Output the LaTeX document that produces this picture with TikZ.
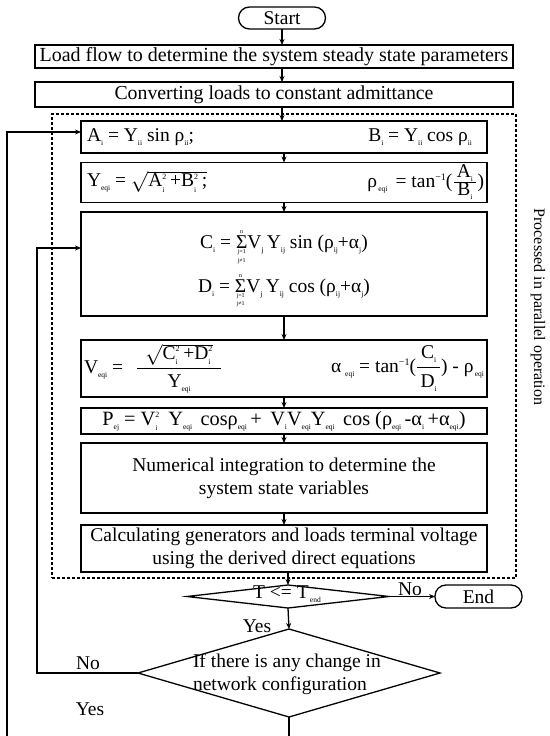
\documentclass[tikz,border=0pt]{standalone}
\usepackage{fontspec}
\setmainfont{Liberation Serif}
\usetikzlibrary{arrows.meta,shapes.geometric}
\newcommand{\lo}[1]{\raisebox{-0.45ex}{\fontsize{7.5}{7.5}\selectfont #1}}
\newcommand{\hi}[1]{\raisebox{0.85ex}{\fontsize{8}{8}\selectfont #1}}
\newcommand{\lohi}[2]{\ensuremath{\hbox{}^{\hbox{\fontsize{8}{8}\selectfont #2}}_{\hbox{\fontsize{7.5}{7.5}\selectfont #1}}}}
\newcommand{\sumn}{\ensuremath{\mathop{\hbox{Σ}}\limits^{\hbox{\fontsize{6}{6}\selectfont n}}_{\hbox{\fontsize{6}{6}\selectfont\shortstack{j=1\\j≠1}}}}}
\begin{document}
\begin{tikzpicture}[x=1pt,y=-1pt,
  font=\fontsize{19.5}{23}\selectfont,
  every node/.style={inner sep=0pt,outer sep=0pt},
  box/.style={draw,line width=1.3pt,minimum width=406pt},
  wbox/.style={draw,line width=1.3pt,minimum width=478pt},
  term/.style={draw,line width=1.3pt,rounded corners=11pt,minimum width=87pt,minimum height=22pt},
  dia/.style={draw,line width=1.3pt,diamond},
  arr/.style={line width=1.3pt,-{Stealth[length=6pt,width=5pt]}},
  ln/.style={line width=1.3pt}]
\useasboundingbox (0,0) rectangle (549,736);
% terminals and top boxes
\node[term] (Start) at (282,18) {Start};
\node[wbox,minimum height=23pt,font=\fontsize{20}{23}\selectfont] (Load) at (274,56.5) {Load flow to determine the system steady state parameters};
\node[wbox,minimum height=25pt,font=\fontsize{19.8}{23}\selectfont] (Conv) at (274,94.5) {Converting loads to constant admittance};
% dashed frame
\node[draw,line width=1.3pt,dash pattern=on 3pt off 2pt,minimum width=464pt,minimum height=464pt] (frame) at (284,346) {};
% inner boxes
\node[box,minimum height=32pt] (A) at (284,137) {};
\node[box,minimum height=40pt] (Y) at (284,182.5) {};
\node[box,minimum height=104pt] (CD) at (284,264) {};
\node[box,minimum height=57pt] (V) at (284,368.5) {};
\node[box,minimum height=26pt,font=\fontsize{20.3}{22}\selectfont] (P) at (284,421) {P\lo{ej} = V\lohi{i}{2}\, Y\lo{eqi}\, cosρ\lo{eqi}\,+\, V\lo{i}V\lo{eqi}Y\lo{eqi}\, cos (ρ\lo{eqi}\,-α\lo{i}\,+α\lo{eqi})};
\node[box,minimum height=70pt,align=center] (Num) at (284,478) {Numerical integration to determine the\\system state variables};
\node[box,minimum height=47pt,align=center] (Calc) at (284,548.5) {Calculating generators and loads terminal voltage\\using the derived direct equations};
% box texts
\node[anchor=west] (Atxt) at (87,137) {A\lo{i} = Y\lo{ii} sin ρ\lo{ii};};
\node[anchor=east] (Btxt) at (472,137) {B\lo{i} = Y\lo{ii} cos ρ\lo{ii}};
\node[anchor=west] (Ytxt) at (87,182) {Y\lo{eqi} = $\sqrt{\hbox{A\lohi{i}{2}\,+B\lohi{i}{2}\,;}}$};
\node[anchor=east] (rtxt) at (484,182.5) {ρ\lo{\,eqi}\ \,= tan\raisebox{0.8ex}{\fontsize{10}{10}\selectfont −1}($\frac{\hbox{\,A\lo{i}\,}}{\hbox{\,B\lo{i}\,}}$)};
\node[align=center] (CDtxt) at (284,269) {C\lo{i} = \sumn V\lo{j}\,Y\lo{ij} sin (ρ\lo{ij}+α\lo{j})\\[8pt]D\lo{i} = \sumn V\lo{j}\,Y\lo{ij} cos (ρ\lo{ij}+α\lo{j})};
\node[anchor=west] (Vtxt) at (84,368.5) {V\lo{eqi} = \hspace{8pt}$\displaystyle\frac{\hbox{\ \,$\sqrt{\hbox{C\lohi{i}{2}\,+D\lohi{i}{2}}}$\ \,}}{\hbox{Y\lo{eqi}}}$};
\node[anchor=east] (atxt) at (484,368.5) {α\lo{\ \ eqi}\ = tan\raisebox{0.8ex}{\fontsize{10}{10}\selectfont −1}($\displaystyle\frac{\hbox{\,C\lo{i}\,}}{\hbox{\,D\lo{i}\,}}$) - ρ\lo{\,eqi}};
% decisions
\node[dia,minimum width=202pt,minimum height=23pt] (T) at (288,596.5) {};
\node (Ttxt) at (287,594) {T <= T\lo{\,end}};
\node[term,minimum height=23pt] (End) at (478.5,596.5) {End};
\node[dia,minimum width=302pt,minimum height=88pt] (D2) at (289,673) {};
\node[align=left,anchor=west] (D2txt) at (193,674) {If there is any change in\\network configuration};
% labels
\node (no1) at (410,589) {No};
\node (yes1) at (257,626) {Yes};
\node (no2) at (88,663) {No};
\node (yes2) at (90,709) {Yes};
\node[rotate=-90,font=\fontsize{16}{18}\selectfont] (side) at (538,307) {Processed in parallel operation};
% connectors
\draw[arr] (Start.south) -- (Start.south |- Load.north);
\draw[arr] (Start.south |- Load.south) -- (Start.south |- Conv.north);
\draw[arr] (Start.south |- Conv.south) -- (Start.south |- A.north);
\draw[arr] (A) -- (Y);
\draw[arr] (Y) -- (CD);
\draw[arr] (CD) -- (V);
\draw[arr] (V) -- (P);
\draw[arr] (P) -- (Num);
\draw[arr] (Num) -- (Calc);
\draw[arr] (T.north |- Calc.south) -- (T.north);
\draw[arr] (T.east) -- (End.west);
\draw[arr] (T.south) -- (D2.north);
\coordinate (i1) at (37,248);
\draw[arr] (D2.west) -| (i1) -- (i1 -| CD.west);
\coordinate (o1) at (7,736);
\coordinate (o2) at (7,132);
\draw[arr] (o1) -- (o2) -- (o2 -| A.west);
\coordinate (b1) at (289,736);
\draw[ln] (D2.south) -- (b1);
\end{tikzpicture}
\end{document}
